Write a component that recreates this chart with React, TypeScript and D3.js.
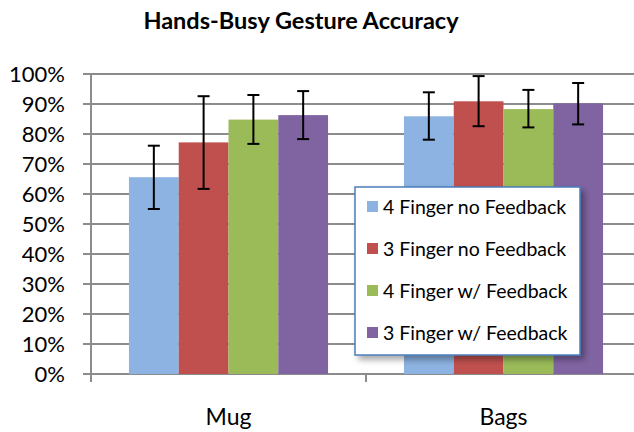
import React from "react";
import * as d3 from "d3";

const categories = ["Mug", "Bags"];
const seriesNames = [
  "4 Finger no Feedback",
  "3 Finger no Feedback",
  "4 Finger w/ Feedback",
  "3 Finger w/ Feedback",
];
const colors = ["#8db3e2", "#c0504d", "#9bbb59", "#8064a2"];
// mean values per series, [Mug, Bags]
const means = [
  [0.656, 0.859],
  [0.772, 0.909],
  [0.848, 0.883],
  [0.863, 0.902],
];
const errHigh = [
  [0.761, 0.939],
  [0.926, 0.993],
  [0.93, 0.947],
  [0.943, 0.97],
];
const errLow = [
  [0.55, 0.781],
  [0.617, 0.826],
  [0.767, 0.822],
  [0.783, 0.832],
];
const yTicks = [0, 0.1, 0.2, 0.3, 0.4, 0.5, 0.6, 0.7, 0.8, 0.9, 1];

const font = "Lato, 'Open Sans', sans-serif";

const App = () => {
  const width = 634;
  const height = 432;
  const left = 91;
  const right = 641;

  const x0 = d3.scaleBand().domain(categories).range([left, right]);
  const gap = x0.bandwidth() * 0.138;
  const x1 = d3
    .scaleBand()
    .domain(seriesNames)
    .range([gap, x0.bandwidth() - gap]);
  const y = d3.scaleLinear().domain([0, 1]).range([374, 74]);
  const fmt = d3.format(".0%");

  const grid = "#8c8c8c";

  return (
    <svg
      width={width}
      height={height}
      style={{ position: "absolute", left: 0, top: 0, background: "#fff" }}
    >
      <defs>
        <filter id="shadow" x="-10%" y="-10%" width="130%" height="130%">
          <feDropShadow dx="4" dy="4" stdDeviation="3" floodColor="#000" floodOpacity="0.35" />
        </filter>
      </defs>

      <text
        x={301}
        y={29}
        textAnchor="middle"
        fontFamily={font}
        fontWeight="bold"
        fontSize={23.5}
        fill="#000"
      >
        Hands-Busy Gesture Accuracy
      </text>

      {/* gridlines + y labels */}
      {yTicks.map((t) => (
        <g key={t}>
          <line x1={83} x2={right} y1={y(t)} y2={y(t)} stroke={grid} strokeWidth={2} />
          <text
            x={65}
            y={y(t)}
            dy="0.36em"
            textAnchor="end"
            fontFamily={font}
            fontSize={22}
            fill="#000"
          >
            {fmt(t)}
          </text>
        </g>
      ))}
      <line x1={left} x2={left} y1={y(1)} y2={y(0)} stroke={grid} strokeWidth={2} />
      {[left, ...categories.map((c) => (x0(c) as number) + x0.bandwidth())].map((xx, i) => (
        <line key={i} x1={xx} x2={xx} y1={y(0)} y2={y(0) + 8} stroke={grid} strokeWidth={2} />
      ))}

      {/* bars */}
      {seriesNames.map((s, si) =>
        categories.map((c, ci) => {
          const bx = (x0(c) as number) + (x1(s) as number);
          return (
            <rect
              key={s + c}
              x={bx}
              y={y(means[si][ci])}
              width={x1.bandwidth()}
              height={y(0) - y(means[si][ci])}
              fill={colors[si]}
            />
          );
        })
      )}

      {/* error bars */}
      {seriesNames.map((s, si) =>
        categories.map((c, ci) => {
          const cx = (x0(c) as number) + (x1(s) as number) + x1.bandwidth() / 2;
          const hi = y(errHigh[si][ci]);
          const lo = y(errLow[si][ci]);
          return (
            <g key={"e" + s + c} stroke="#000" strokeWidth={2}>
              <line x1={cx} x2={cx} y1={hi} y2={lo} />
              <line x1={cx - 6} x2={cx + 6} y1={hi} y2={hi} />
              <line x1={cx - 6} x2={cx + 6} y1={lo} y2={lo} />
            </g>
          );
        })
      )}

      {/* category labels */}
      {categories.map((c) => (
        <text
          key={c}
          x={(x0(c) as number) + x0.bandwidth() / 2}
          y={425}
          textAnchor="middle"
          fontFamily={font}
          fontSize={23}
          fill="#000"
        >
          {c}
        </text>
      ))}

      {/* legend */}
      <g>
        <rect
          x={355}
          y={187}
          width={225}
          height={168}
          fill="#fff"
          stroke="#4a7ebb"
          strokeWidth={1.5}
          filter="url(#shadow)"
        />
        {seriesNames.map((s, i) => (
          <g key={s} transform={`translate(367,${207 + i * 42})`}>
            <rect x={0} y={-6} width={11} height={11} fill={colors[i]} />
            <text x={16} y={0} dy="0.36em" fontFamily={font} fontSize={19.5} fill="#000">
              {s}
            </text>
          </g>
        ))}
      </g>
    </svg>
  );
};

export default App;
